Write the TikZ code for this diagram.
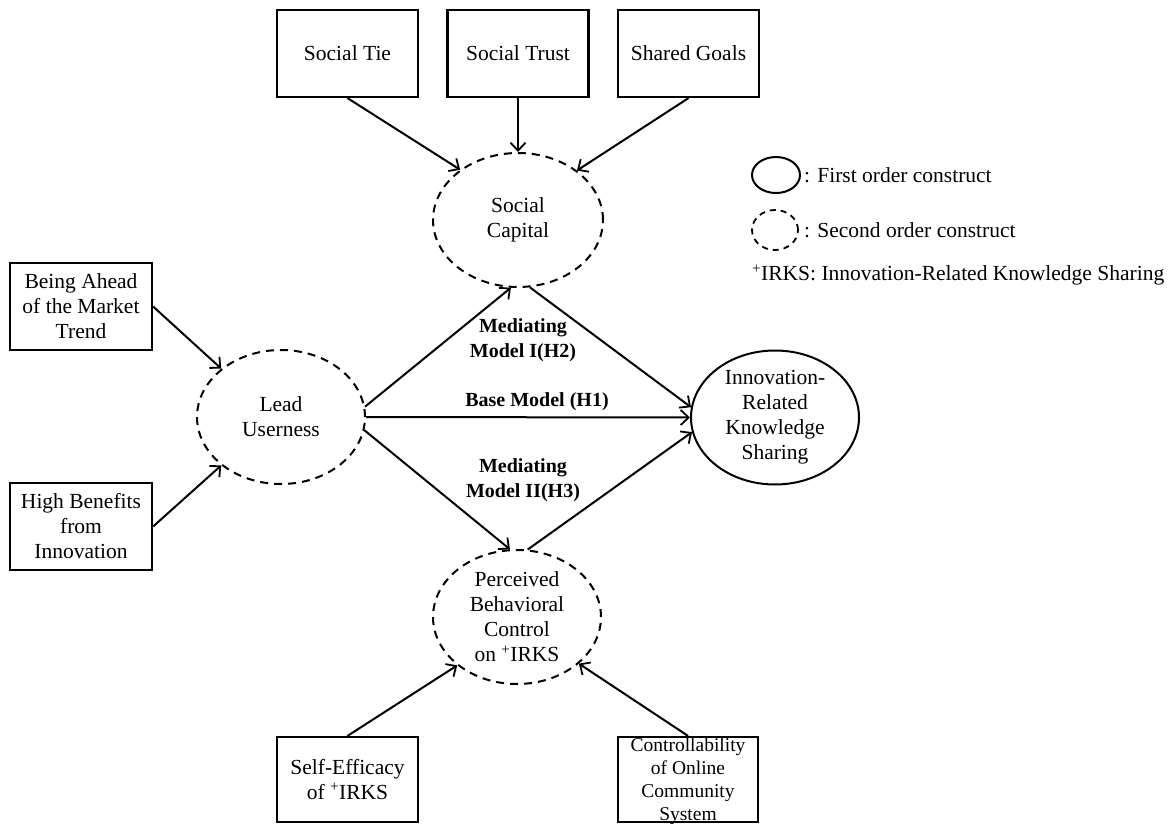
\documentclass[tikz,border=0pt]{standalone}
\usepackage{fontspec}
\setmainfont{Liberation Serif}
\usetikzlibrary{arrows.meta,shapes.geometric}
\tikzset{
  box/.style={draw,line width=2.2pt,minimum width=141pt,minimum height=87pt,inner sep=2pt,align=center,font=\fontsize{21.5}{25}\selectfont},
  constr/.style={draw,ellipse,line width=2pt,minimum width=168pt,minimum height=134pt,inner sep=0pt,align=center,font=\fontsize{21.5}{25}\selectfont},
  second/.style={constr,dash pattern=on 8pt off 6pt},
  lbl/.style={align=center,font=\bfseries\fontsize{20}{25}\selectfont,inner sep=0pt},
  legtxt/.style={anchor=west,inner sep=0pt,font=\fontsize{21.5}{25}\selectfont},
  arr/.style={line width=2pt,-{Straight Barb[length=8pt,width=15pt,line width=1.8pt]}},
}
\begin{document}
\begin{tikzpicture}[x=1pt,y=-1pt]
\useasboundingbox (0,0) rectangle (1168,824);
% top boxes
\node[box] (st) at (347.5,53.5) {Social Tie};
\node[box] (tr) at (518,53.5) {Social Trust};
\node[box] (sg) at (688.5,53.5) {Shared Goals};
% left boxes
\node[box,minimum width=142pt] (ba) at (81,306.5) {Being Ahead\\of the Market\\Trend};
\node[box,minimum width=142pt] (hb) at (81,526.5) {High Benefits\\from\\Innovation};
% bottom boxes
\node[box,minimum height=85pt] (se) at (347.5,779.5) {Self-Efficacy\\of \textsuperscript{+}IRKS};
\node[box,minimum height=85pt,minimum width=140pt] (co) at (688,779.5) {};
\node[align=center,inner sep=0pt,font=\fontsize{19.5}{23}\selectfont] (cot) at (688,781) {Controllability\\of Online\\Community\\System};
% constructs
\node[second,minimum width=170pt] (sc) at (518,220) {Social\\Capital};
\node[second] (lu) at (281,417) {Lead\\Userness};
\node[constr] (ir) at (775,417.5) {Innovation-\\Related\\Knowledge\\Sharing};
\node[second] (pb) at (517,617) {Perceived\\Behavioral\\Control\\on \textsuperscript{+}IRKS};
% arrows
\draw[arr] (st.south) -- (sc.139);
\draw[arr] (tr.south) -- (sc.north);
\draw[arr] (sg.south) -- (sc.40);
\draw[arr] (ba.east) -- (lu.141);
\draw[arr] (hb.east) -- (lu.219);
\draw[arr] (lu.7) -- (sc.264);
\draw[arr] (sc.280) -- (ir.173);
\draw[arr] (lu.east) -- (ir.west);
\draw[arr] (lu.-9) -- (pb.96);
\draw[arr] (pb.81) -- (ir.190);
\draw[arr] (se.north) -- (pb.219);
\draw[arr] (co.north) -- (pb.323);
% path labels
\node[lbl] (l2) at (523,340) {Mediating\\Model I(H2)};
\node[lbl] (l1) at (537,402) {Base Model (H1)};
\node[lbl] (l3) at (523,480) {Mediating\\Model II(H3)};
% legend
\node[draw,ellipse,line width=2pt,minimum width=48pt,minimum height=36pt,inner sep=0pt] (lg1) at (776,175) {};
\node[legtxt] (lt1) at (804,175) {: First order construct};
\node[draw,ellipse,line width=1.8pt,dash pattern=on 6pt off 5pt,minimum width=46pt,minimum height=40pt,inner sep=0pt] (lg2) at (775,230) {};
\node[legtxt] (lt2) at (804,230) {: Second order construct};
\node[legtxt] (lt3) at (752,275) {\textsuperscript{+}IRKS: Innovation-Related Knowledge Sharing};
\end{tikzpicture}
\end{document}
